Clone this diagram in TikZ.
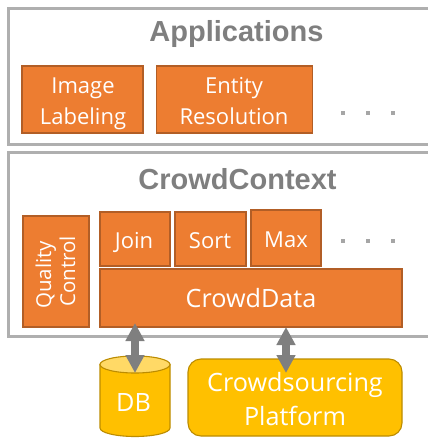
\documentclass[tikz,border=0pt]{standalone}
\usepackage{fontspec}
\setmainfont{Open Sans}
\newfontfamily\headfont{Liberation Sans}
\usetikzlibrary{arrows.meta}
\definecolor{orangefill}{HTML}{ED7D31}
\definecolor{orangeline}{HTML}{B25E26}
\definecolor{goldfill}{HTML}{FFC000}
\definecolor{goldline}{HTML}{BC8C00}
\definecolor{goldtop}{HTML}{FFD966}
\definecolor{panelline}{HTML}{AFAFAF}
\definecolor{headtext}{HTML}{7F7F7F}
\definecolor{arrowgray}{HTML}{7F7F7F}
\definecolor{dotgray}{HTML}{A6A6A6}
\tikzset{
  panel/.style={draw=panelline,line width=3pt,fill=white},
  box/.style={draw=orangeline,line width=1.1pt,fill=orangefill,inner sep=0pt},
  lbl/.style={text=white,font=\fontsize{22}{26}\selectfont,inner sep=0pt,anchor=base},
  biglbl/.style={text=white,font=\fontsize{25.2}{30}\selectfont,inner sep=0pt,anchor=base},
  rotlbl/.style={text=white,font=\fontsize{20.5}{24}\selectfont,inner sep=0pt,anchor=base,rotate=90},
  plat/.style={draw=goldline,line width=1.1pt,fill=goldfill,rounded corners=13pt,inner sep=0pt},
  cyl/.style={draw=goldline,line width=1.1pt},
  head/.style={text=headtext,font=\headfont\bfseries\fontsize{29}{34}\selectfont,inner sep=0pt,anchor=base},
  biarrow/.style={draw=arrowgray,line width=8pt,{Triangle[width=18pt,length=18pt]}-{Triangle[width=18pt,length=18pt]}},
  dotmark/.style={fill=dotgray,minimum size=4.5pt,inner sep=0pt},
}
\begin{document}
\begin{tikzpicture}[x=1pt,y=-1pt]
\useasboundingbox (0,0) rectangle (428,439);
% panels
\path[panel] (8.5,8) -- (440,8) -- (440,144) -- (8.5,144) -- cycle;
\path[panel] (8.5,152) -- (440,152) -- (440,336.5) -- (8.5,336.5) -- cycle;
\node[head] (apps) at (236.5,41) {Applications};
\node[head] (cc) at (237.5,189) {CrowdContext};
% applications
\node[box,minimum width=121pt,minimum height=67pt] (img) at (82.5,99.5) {};
\node[lbl] (t1) at (83,93) {Image};
\node[lbl] (t2) at (83,124) {Labeling};
\node[box,minimum width=156pt,minimum height=67pt] (ent) at (234.5,99.5) {};
\node[lbl] (t3) at (234,93) {Entity};
\node[lbl] (t4) at (234,124) {Resolution};
\node[dotmark] (a1) at (343,113) {};
\node[dotmark] (a2) at (368,113) {};
\node[dotmark] (a3) at (393,113) {};
% crowdcontext
\node[box,minimum width=66pt,minimum height=111pt] (qcbox) at (56,271.5) {};
\node[rotlbl] (qc1) at (51,275) {Quality};
\node[rotlbl] (qc2) at (75,271.5) {Control};
\node[box,minimum width=70pt,minimum height=54pt] (join) at (135,239) {};
\node[lbl] (t5) at (134,248) {Join};
\node[box,minimum width=71pt,minimum height=54pt] (sort) at (210.5,239) {};
\node[lbl] (t6) at (210,248) {Sort};
\node[box,minimum width=70pt,minimum height=56pt] (max) at (286,238) {};
\node[lbl] (t7) at (286,247) {Max};
\node[dotmark] (b1) at (343,241) {};
\node[dotmark] (b2) at (368,241) {};
\node[dotmark] (b3) at (393,241) {};
\node[box,minimum width=302pt,minimum height=58pt] (data) at (251,298) {};
\node[biglbl] (t8) at (251,307) {CrowdData};
% bottom
\draw[cyl,fill=goldfill] (100,364.5) -- (100,428) arc[start angle=180,end angle=360,x radius=35,y radius=-8.5] -- (170,364.5) -- cycle;
\draw[cyl,fill=goldtop] (135,364.5) ellipse[x radius=35,y radius=8.5];
\node[biglbl] (dbt) at (133.5,411) {DB};
\node[plat,minimum width=214pt,minimum height=77pt] (platbox) at (295,397.5) {};
\node[biglbl] (t9) at (295,391) {Crowdsourcing};
\node[biglbl] (t10) at (295,425) {Platform};
% connectors
\coordinate (datal) at (135,323);
\coordinate (dbtop) at (135,373);
\coordinate (datar) at (286,327);
\coordinate (plattop) at (286,373);
\draw[biarrow] (datal) -- (dbtop);
\draw[biarrow] (datar) -- (plattop);
\end{tikzpicture}
\end{document}
